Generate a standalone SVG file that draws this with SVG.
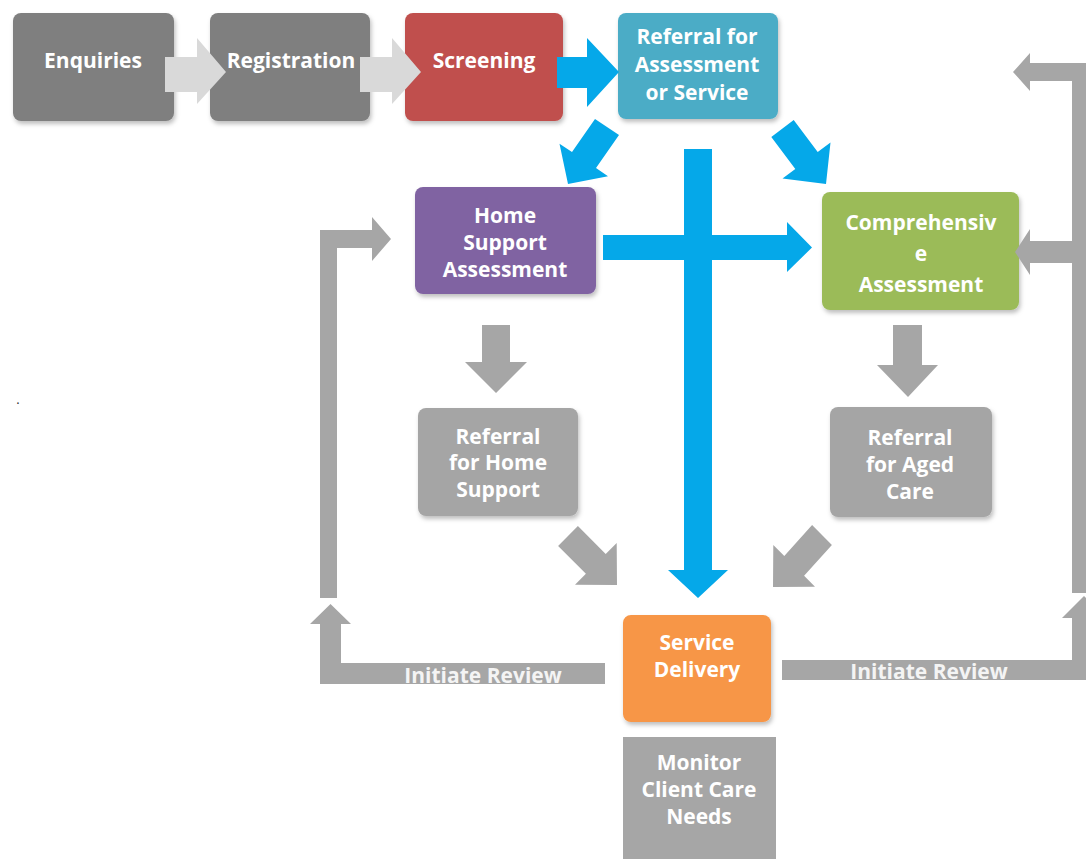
<svg xmlns="http://www.w3.org/2000/svg" width="1086" height="859" viewBox="0 0 1086 859">
<style>
.box{filter:url(#sh)}
.t{font-family:"Open Sans","Noto Sans","Liberation Sans",sans-serif;font-weight:700;font-size:21px;fill:#ffffff;text-anchor:middle}
.lbl{font-family:"Open Sans","Noto Sans","Liberation Sans",sans-serif;font-weight:700;font-size:21px;fill:#f4f4f4;text-anchor:middle}
.blue{fill:#05a8e9}
.gray{fill:#a6a6a6}
.light{fill:#d9d9d9}
</style>
<defs>
<filter id="sh" x="-10%" y="-10%" width="125%" height="130%">
<feDropShadow dx="1.5" dy="3" stdDeviation="2" flood-color="#000" flood-opacity="0.25"/>
</filter>
</defs>
<rect width="1086" height="859" fill="#ffffff"/>
<text x="16" y="404" style="font-family:'Liberation Sans',sans-serif;font-size:14px;fill:#333">.</text>
<g id="nodes">
<g id="enquiries"><rect class="box" x="13" y="13" width="161" height="108" rx="8" fill="#7f7f7f"/><text class="t" x="93" y="68">Enquiries</text></g>
<g id="registration"><rect class="box" x="210" y="13" width="160" height="108" rx="8" fill="#7f7f7f"/><text class="t" x="291" y="68">Registration</text></g>
<g id="screening"><rect class="box" x="405" y="13" width="158" height="108" rx="8" fill="#c0504d"/><text class="t" x="484" y="68">Screening</text></g>
<g id="referral"><rect class="box" x="618" y="13" width="160" height="106" rx="8" fill="#4bacc6"/><text class="t" x="697" y="44">Referral for</text><text class="t" x="697" y="72">Assessment</text><text class="t" x="697" y="100">or Service</text></g>
<g id="homesupport"><rect class="box" x="415" y="187" width="181" height="107" rx="8" fill="#8064a2"/><text class="t" x="505" y="223">Home</text><text class="t" x="505" y="250">Support</text><text class="t" x="505" y="277">Assessment</text></g>
<g id="comprehensive"><rect class="box" x="822" y="192" width="197" height="118" rx="8" fill="#9bbb59"/><text class="t" x="921" y="230">Comprehensiv</text><text class="t" x="921" y="261">e</text><text class="t" x="921" y="292">Assessment</text></g>
<g id="refhome"><rect class="box" x="418" y="408" width="160" height="108" rx="8" fill="#a5a5a5"/><text class="t" x="498" y="444">Referral</text><text class="t" x="498" y="470">for Home</text><text class="t" x="498" y="497">Support</text></g>
<g id="refaged"><rect class="box" x="830" y="407" width="162" height="110" rx="8" fill="#a5a5a5"/><text class="t" x="910" y="445">Referral</text><text class="t" x="910" y="472">for Aged</text><text class="t" x="910" y="499">Care</text></g>
<g id="service"><rect class="box" x="623" y="615" width="148" height="107" rx="8" fill="#f79646"/><text class="t" x="697" y="650">Service</text><text class="t" x="697" y="677">Delivery</text></g>
<g id="monitor"><rect x="623" y="737" width="153" height="130" fill="#a6a6a6"/><text class="t" x="699" y="770">Monitor</text><text class="t" x="699" y="797">Client Care</text><text class="t" x="699" y="824">Needs</text></g>
</g>
<g id="connectors">
<polygon class="light" points="165,57 197,57 197,38 226,72 197,104 197,92 165,92"/>
<polygon class="light" points="360,57 392,57 392,38 421,72 392,104 392,92 360,92"/>
<polygon class="blue" points="557,57 587,57 587,38 619,72 587,107 587,88 557,88"/>
<polygon class="blue" points="595,119 619,135 596,168 608,176.3 568,184 559.5,143.7 572,152"/>
<polygon class="blue" points="771.3,136.9 793.7,120.1 817.7,152.1 830.5,142.5 826,184 782.5,178.5 795.3,168.9"/>
<polygon class="blue" points="603,235 787,235 787,222 812,247.5 787,272 787,260 603,260"/>
<polygon class="blue" points="684,149 712,149 712,570 728,570 698,598 668,570 684,570"/>
<polygon class="gray" points="482,325 510,325 510,362 527,362 496,393 465,362 482,362"/>
<polygon class="gray" points="893,325 922,325 922,365 938,365 908,397 877,365 893,365"/>
<polygon class="gray" points="577.9,526.1 605.7,553.9 616.7,543 617,585 575,584.7 585.9,573.7 558.1,545.9"/>
<polygon class="gray" points="831.9,544.9 804.1,575.7 815,586.7 773,587 773.3,545 784.3,555.9 812.1,525.1"/>
<polygon class="gray" points="605,663 341,663 341,624 351,624 330.5,604 310,624 320,624 320,684 605,684"/>
<polygon class="gray" points="320,598 320,230 372,230 372,217 391,239 372,261 372,248 337,248 337,598"/>
<polygon class="gray" points="782,660 1072,660 1072,618 1062,618 1084,596 1106,618 1096,618 1096,680 782,680"/>
<polygon class="gray" points="1096,593 1096,63 1030,63 1030,53 1013,72 1030,91 1030,81 1072,81 1072,241 1030,241 1030,229 1015,252 1030,275 1030,263 1072,263 1072,593"/>
<text class="lbl" x="483" y="683">Initiate Review</text>
<text class="lbl" x="929" y="679">Initiate Review</text>
</g>
</svg>
